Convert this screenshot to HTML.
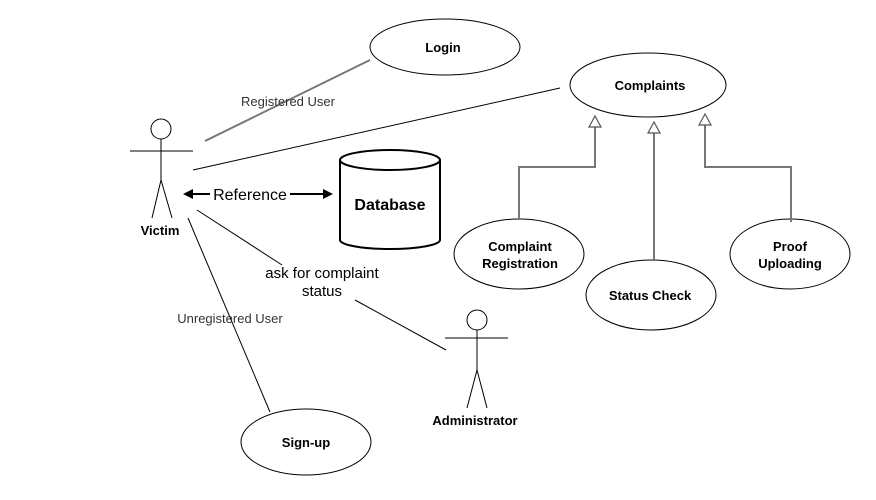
<!DOCTYPE html>
<html><head><style>body{margin:0;background:#fff}svg{display:block}text{font-family:"Liberation Sans",Arial,sans-serif}</style></head><body>
<svg width="876" height="500" viewBox="0 0 876 500" xmlns="http://www.w3.org/2000/svg">
<g fill="#fff" stroke="#000" stroke-width="1">
<ellipse cx="445" cy="47" rx="75" ry="28"/>
<ellipse cx="648" cy="85" rx="78" ry="32"/>
<ellipse cx="519" cy="254" rx="65" ry="35"/>
<ellipse cx="651" cy="295" rx="65" ry="35"/>
<ellipse cx="790" cy="254" rx="60" ry="35"/>
<ellipse cx="306" cy="442" rx="65" ry="33"/>
<path d="M340 160 L340 240 A50 9 0 0 0 440 240 L440 160" stroke-width="2"/>
<ellipse cx="390" cy="160" rx="50" ry="10" stroke-width="2"/>
</g>
<g fill="none" stroke="#000" stroke-width="1">
<circle cx="161" cy="129" r="10"/>
<line x1="130" y1="151" x2="193" y2="151"/>
<line x1="161" y1="139" x2="161" y2="180"/>
<polyline points="152,218 161,180 172,218"/>
<circle cx="477" cy="320" r="10"/>
<line x1="445" y1="338" x2="508" y2="338"/>
<line x1="477" y1="330" x2="477" y2="370"/>
<polyline points="467,408 477,370 487,408"/>
<line x1="193" y1="170" x2="560" y2="88"/>
<line x1="197" y1="210" x2="282" y2="265"/>
<line x1="355" y1="300" x2="446" y2="350"/>
<line x1="188" y1="218" x2="270" y2="412"/>
<line x1="192" y1="194" x2="210" y2="194" stroke-width="2"/>
<line x1="290" y1="194" x2="324" y2="194" stroke-width="2"/>
</g>
<line x1="205" y1="141" x2="370" y2="60" stroke="#777" stroke-width="2"/>
<polygon points="183,194 193,189 193,199" fill="#000"/>
<polygon points="333,194 323,189 323,199" fill="#000"/>
<g fill="none" stroke="#777" stroke-width="2">
<polyline points="519,220 519,167 595,167 595,127"/>
<line x1="654" y1="260" x2="654" y2="133"/>
<polyline points="791,222 791,167 705,167 705,125"/>
</g>
<g fill="#fff" stroke="#555" stroke-width="1.2">
<polygon points="595,116 589,127 601,127"/>
<polygon points="654,122 648,133 660,133"/>
<polygon points="705,114 699,125 711,125"/>
</g>
<g font-size="13" font-weight="bold" text-anchor="middle" fill="#000">
<text x="443" y="52">Login</text>
<text x="650" y="90">Complaints</text>
<text x="520" y="251">Complaint</text>
<text x="520" y="268">Registration</text>
<text x="650" y="300">Status Check</text>
<text x="790" y="251">Proof</text>
<text x="790" y="268">Uploading</text>
<text x="306" y="447">Sign-up</text>
<text x="160" y="235">Victim</text>
<text x="475" y="425">Administrator</text>
<text x="390" y="210" font-size="16">Database</text>
</g>
<g text-anchor="middle" fill="#333">
<text x="288" y="106" font-size="13">Registered User</text>
<text x="250" y="200" font-size="16" fill="#000">Reference</text>
<text x="322" y="278" font-size="15" fill="#000">ask for complaint</text>
<text x="322" y="296" font-size="15" fill="#000">status</text>
<text x="230" y="323" font-size="13">Unregistered User</text>
</g>
</svg>
</body></html>
